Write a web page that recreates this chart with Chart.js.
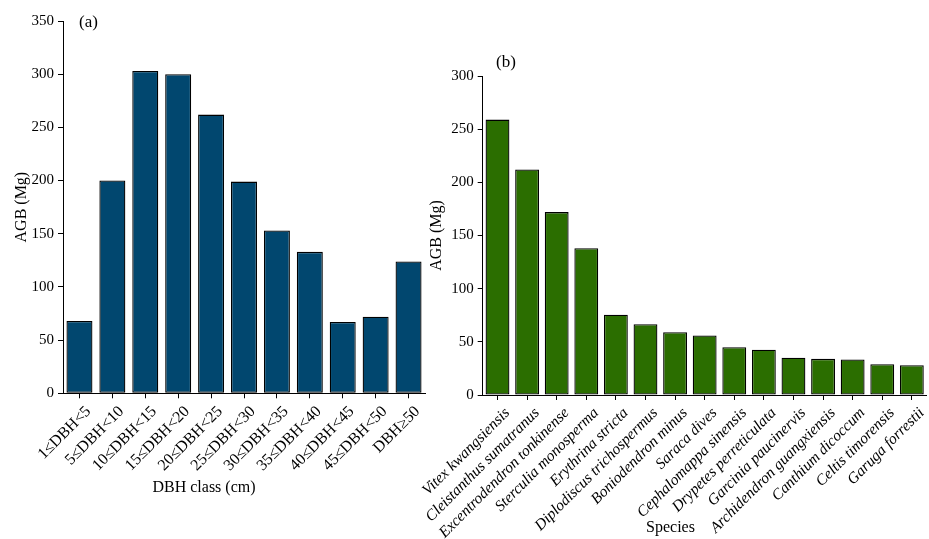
<!DOCTYPE html>
<html>
<head>
<meta charset="utf-8">
<script src="https://cdn.jsdelivr.net/npm/chart.js@4.4.1/dist/chart.umd.min.js"></script>
<style>
  html, body { margin: 0; padding: 0; background: #ffffff; }
  #wrap { position: relative; width: 929px; height: 539px; overflow: hidden; }
  #wrap canvas { position: absolute; left: 0; top: 0; }
</style>
</head>
<body>
<div id="wrap">
  <canvas id="chartA" width="929" height="539"></canvas>
  <canvas id="chartB" width="929" height="539"></canvas>
</div>
<script>
// Panel (a): above-ground biomass by DBH class
const dbhClasses = ['1≤DBH<5', '5≤DBH<10', '10≤DBH<15', '15≤DBH<20', '20≤DBH<25', '25≤DBH<30',
                    '30≤DBH<35', '35≤DBH<40', '40≤DBH<45', '45≤DBH<50', 'DBH≥50'];
const dbhAgb = [68, 200, 303, 300, 262, 199, 153, 133, 67, 72, 124];
const dbhTicks = { max: 350, step: 50 };

// Panel (b): above-ground biomass of the leading species
const speciesNames = ['Vitex kwangsiensis', 'Cleistanthus sumatranus', 'Excentrodendron tonkinense',
                      'Sterculia monosperma', 'Erythrina stricta', 'Diplodiscus trichospermus',
                      'Boniodendron minus', 'Saraca dives', 'Cephalomappa sinensis',
                      'Drypetes perreticulata', 'Garcinia paucinervis', 'Archidendron guangxiensis',
                      'Canthium dicoccum', 'Celtis timorensis', 'Garuga forrestii'];
const speciesAgb = [259, 212, 172, 138, 75.5, 66.5, 59, 56, 45, 42.5, 35, 34, 33.5, 29, 28];
const speciesTicks = { max: 300, step: 50 };

const SERIF = "'Liberation Serif', 'DejaVu Serif', serif";

// Draws free-standing labels (panel letters, x-axis titles) at canvas coordinates
const freeText = {
  id: 'freeText',
  afterDraw(chart, args, opts) {
    const ctx = chart.ctx;
    ctx.save();
    ctx.fillStyle = '#000';
    ctx.textAlign = 'center';
    ctx.textBaseline = 'middle';
    (opts.items || []).forEach(t => {
      ctx.font = (t.style || '') + ' ' + t.size + 'px ' + SERIF;
      ctx.fillText(t.text, t.x, t.y);
    });
    ctx.restore();
  }
};

function makeChart(id, cfg) {
  return new Chart(document.getElementById(id), {
    type: 'bar',
    data: {
      labels: cfg.labels,
      datasets: [{
        data: cfg.values,
        backgroundColor: cfg.color,
        borderColor: '#000000',
        borderWidth: 1.3,
        borderSkipped: false,
        categoryPercentage: 1,
        barPercentage: cfg.barPct
      }]
    },
    options: {
      responsive: false,
      animation: false,
      devicePixelRatio: 1,
      layout: { padding: cfg.padding },
      plugins: {
        legend: { display: false },
        tooltip: { enabled: false },
        freeText: { items: cfg.texts }
      },
      scales: {
        x: {
          offset: true,
          afterFit(scale) { scale.height = cfg.xHeight; },
          grid: { display: true, drawOnChartArea: false, drawTicks: true, tickLength: 5,
                  color: '#000', offset: false },
          border: { display: true, color: '#000', width: 1 },
          ticks: {
            color: '#000', autoSkip: false, maxRotation: 45, minRotation: 45,
            padding: cfg.labelPad, labelOffset: cfg.labelShift,
            font: { family: SERIF, size: cfg.labelSize, style: cfg.labelStyle }
          }
        },
        y: {
          min: 0, max: cfg.ticks.max,
          afterFit(scale) { scale.width = cfg.yWidth; },
          grid: { display: true, drawOnChartArea: false, drawTicks: true, tickLength: 5, color: '#000' },
          border: { display: true, color: '#000', width: 1 },
          ticks: { color: '#000', stepSize: cfg.ticks.step, padding: 4,
                   font: { family: SERIF, size: 15 } },
          title: { display: true, text: 'AGB (Mg)', color: '#000',
                   font: { family: SERIF, size: 16 }, padding: { top: cfg.yTitlePad, bottom: 0 } }
        }
      }
    },
    plugins: [freeText]
  });
}

makeChart('chartA', {
  labels: dbhClasses,
  values: dbhAgb,
  ticks: dbhTicks,
  color: '#01476F',
  barPct: 0.79,
  labelStyle: 'normal',
  labelSize: 16,
  labelPad: 4,
  labelShift: 9,
  padding: { left: 0, top: 21, right: 504, bottom: 0 },
  yWidth: 63,
  xHeight: 145.7,
  yTitlePad: 12.4,
  texts: [
    { text: '(a)', x: 88.5, y: 23, size: 17 },
    { text: 'DBH class (cm)', x: 204, y: 488, size: 16 }
  ]
});

makeChart('chartB', {
  labels: speciesNames,
  values: speciesAgb,
  ticks: speciesTicks,
  color: '#2B6E00',
  barPct: 0.806,
  labelStyle: 'italic',
  labelSize: 15.5,
  labelPad: 4,
  labelShift: 10,
  padding: { left: 420, top: 76, right: 0, bottom: 0 },
  yWidth: 62.7,
  xHeight: 144,
  yTitlePad: 7.4,
  texts: [
    { text: '(b)', x: 506, y: 63, size: 17 },
    { text: 'Species', x: 670.5, y: 528, size: 16 }
  ]
});
</script>
</body>
</html>
